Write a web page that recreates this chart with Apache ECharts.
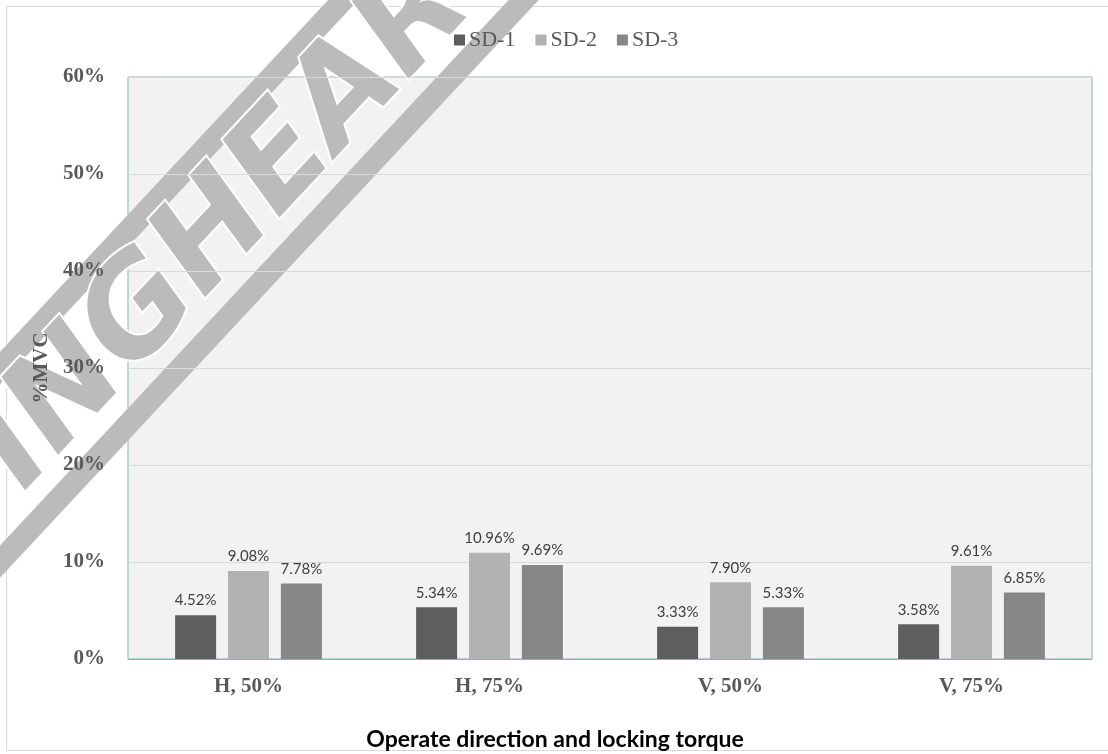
<!DOCTYPE html>
<html>
<head>
<meta charset="utf-8">
<script src="https://cdn.jsdelivr.net/npm/echarts@6/dist/echarts.min.js"></script>
<style>
  html, body { margin: 0; padding: 0; background: #ffffff; }
  #chart { width: 1108px; height: 754px; }
</style>
</head>
<body>
<div id="chart"></div>
<script>
// Operate direction / locking torque conditions
const categories = ['H, 50%', 'H, 75%', 'V, 50%', 'V, 75%'];
// %MVC values per series
const sd1 = [4.52, 5.34, 3.33, 3.58];
const sd2 = [9.08, 10.96, 7.90, 9.61];
const sd3 = [7.78, 9.69, 5.33, 6.85];
const seriesNames = ['SD-1', 'SD-2', 'SD-3'];
const seriesColors = ['#5e5e5e', '#b2b2b2', '#878787'];
const yTicks = { min: 0, max: 60, interval: 10 };

const serif = '"Liberation Serif", "Times New Roman", serif';
const sans = 'Lato, "Open Sans", sans-serif';

function barSeries(name, values, color) {
  return {
    name: name,
    type: 'bar',
    data: values,
    barWidth: 41,
    barGap: '29%',
    itemStyle: { color: color },
    label: {
      show: true,
      position: 'top',
      distance: 7,
      formatter: p => p.value.toFixed(2) + '%',
      fontFamily: sans,
      fontSize: 15,
      color: '#404040'
    }
  };
}

const chart = echarts.init(document.getElementById('chart'), null, { renderer: 'canvas' });

chart.setOption({
  backgroundColor: '#ffffff',
  animation: false,
  legend: {
    data: seriesNames,
    top: 24,
    left: 449,
    itemWidth: 11,
    itemHeight: 11,
    itemGap: 20,
    icon: 'rect',
    textStyle: { fontFamily: serif, fontSize: 22, color: '#595959', padding: [0, 0, 0, -1] }
  },
  grid: {
    left: 128,
    top: 77,
    right: 16,
    bottom: 95,
    show: true,
    backgroundColor: '#f2f2f2',
    borderColor: '#8ab3b8',
    borderWidth: 1,
    containLabel: false,
    outerBoundsMode: 'none'
  },
  xAxis: {
    type: 'category',
    data: categories,
    name: 'Operate direction and locking torque',
    nameLocation: 'middle',
    nameGap: 69,
    nameTextStyle: {
      fontFamily: sans, fontWeight: 'bold', fontSize: 23, color: '#000000',
      padding: [0, 110, 0, 0]
    },
    axisLine: { show: true, lineStyle: { color: '#8ab3b8', width: 1 } },
    axisTick: { show: false },
    axisLabel: { fontFamily: serif, fontWeight: 'bold', fontSize: 21, color: '#595959', margin: 17 }
  },
  yAxis: {
    type: 'value',
    min: yTicks.min,
    max: yTicks.max,
    interval: yTicks.interval,
    name: '%MVC',
    nameLocation: 'middle',
    nameGap: 68,
    nameRotate: 90,
    nameTextStyle: { fontFamily: serif, fontWeight: 'bold', fontSize: 21, color: '#595959' },
    axisLine: { show: false },
    axisTick: { show: false },
    splitLine: { show: true, lineStyle: { color: '#d9d9d9', width: 1 } },
    axisLabel: { formatter: '{value}%', fontFamily: serif, fontWeight: 'bold', fontSize: 21, color: '#595959', margin: 23 }
  },
  graphic: [
    {
      // thin outer frame
      type: 'rect',
      shape: { x: 6.5, y: 6.5, width: 1110, height: 744 },
      style: { fill: 'none', stroke: '#d9d9d9', lineWidth: 1 },
      silent: true,
      z: -1
    },
    {
      // diagonal stamp across the upper left
      type: 'group',
      x: 252,
      y: 196,
      rotation: 47 * Math.PI / 180,
      silent: true,
      z: 100,
      children: [
        { type: 'rect', shape: { x: -560, y: -78, width: 1120, height: 22 }, style: { fill: '#bbbbbb' } },
        { type: 'rect', shape: { x: -560, y: 54, width: 1120, height: 22 }, style: { fill: '#bbbbbb' } },
        {
          type: 'text',
          style: {
            text: 'INGHEART',
            x: 0, y: 1,
            align: 'center',
            verticalAlign: 'middle',
            font: 'italic bold 130px "DejaVu Sans"',
            fill: '#bbbbbb',
            stroke: '#ffffff',
            lineWidth: 4
          }
        }
      ]
    }
  ],
  series: [
    barSeries(seriesNames[0], sd1, seriesColors[0]),
    barSeries(seriesNames[1], sd2, seriesColors[1]),
    barSeries(seriesNames[2], sd3, seriesColors[2])
  ]
});
</script>
</body>
</html>
